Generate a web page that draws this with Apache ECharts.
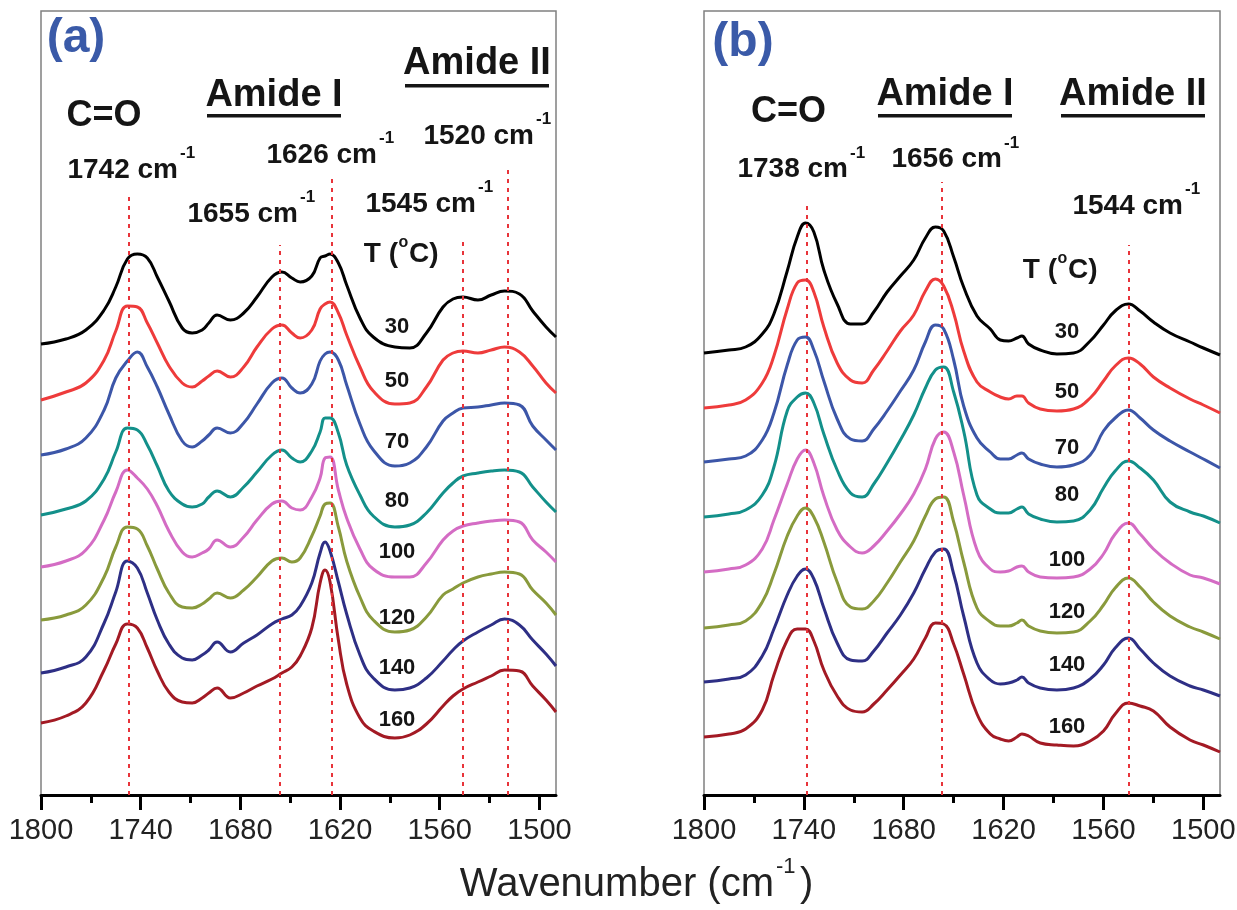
<!DOCTYPE html>
<html><head><meta charset="utf-8">
<script src="https://cdn.jsdelivr.net/npm/echarts@6/dist/echarts.min.js"></script>
<style>html,body{margin:0;padding:0;background:#fff}#c{width:1237px;height:910px}</style>
</head><body><div id="c"></div>
<script>
// Temperatures and colours of the traces
const temps = [30, 50, 70, 80, 100, 120, 140, 160];
const colors = ['#000000', '#ee3b3b', '#3c56a8', '#13908a', '#d46cc4', '#899a3c', '#2e2f85', '#a31a24'];

// Panel (a): wavenumbers (cm-1) and stacked intensities (a.u., offset)
const wnA = [1800,1785,1773,1762,1755,1748,1742,1736,1730,1723,1715,1709,1703,1699,1694,1686,1678,1670,1661,1655,1649,1644,1637,1632,1629,1626,1621,1616,1608,1600,1587,1578,1568,1558,1552,1546,1537,1529,1521,1512,1504,1496,1490];
const a30  = [451,456,465,485,508,536,541,537,518,494,467,462,465,472,480,475,482,498,518,523,517,513,519,537,539,541,532,510,477,458,448,447,462,488,496,498,495,500,504,501,484,468,458];
const a50  = [395,403,412,435,464,489,488,472,452,429,412,408,414,419,424,418,428,448,466,470,462,457,465,486,491,493,482,460,428,404,391,392,408,435,442,444,442,445,448,443,429,412,402];
const a70  = [340,346,357,385,417,434,443,428,408,381,354,348,354,360,367,362,372,391,412,417,407,402,411,434,441,443,435,410,371,345,329,332,348,374,382,387,388,390,392,390,369,355,345];
const a80  = [280,286,294,316,343,367,365,350,329,304,291,288,291,298,304,298,308,323,340,345,337,333,344,363,377,377,362,330,300,279,268,270,282,302,312,319,322,324,325,323,308,293,283];
const a100 = [228,234,245,275,303,325,317,306,289,264,243,238,242,246,255,248,258,275,291,294,287,285,298,317,337,338,305,277,246,226,218,218,232,255,264,269,272,274,275,273,255,243,233];
const a120 = [175,180,190,218,248,268,266,249,226,202,188,187,191,196,202,197,205,218,234,237,233,237,259,279,291,292,268,234,198,175,163,165,178,200,206,212,218,221,223,221,205,192,180];
const a140 = [122,128,138,172,203,234,227,202,175,151,137,135,140,145,153,143,152,160,171,176,180,189,212,242,253,244,213,181,140,117,105,107,117,134,145,154,163,170,176,170,155,141,129];
const a160 = [72,79,92,125,151,171,167,147,124,103,93,92,97,102,107,97,102,109,116,122,128,139,167,212,225,213,155,111,77,64,57,60,71,89,99,106,113,119,125,124,109,95,83];

// Panel (b)
const wnB = [1800,1785,1775,1765,1758,1750,1744,1739,1734,1728,1720,1712,1705,1698,1690,1682,1674,1667,1661,1656,1650,1644,1636,1628,1622,1617,1612,1609,1605,1598,1588,1578,1568,1560,1553,1545,1538,1530,1520,1508,1500,1490];
const b30  = [442,445,448,461,481,524,558,572,563,525,491,471,471,483,503,519,535,557,568,564,538,508,479,466,455,454,457,459,451,445,441,442,454,470,484,491,484,473,462,453,447,440];
const b50  = [387,390,395,412,439,486,512,515,503,468,432,415,412,425,444,464,480,504,516,509,482,444,413,403,398,396,399,399,392,386,384,386,397,414,429,437,431,418,407,396,390,382];
const b70  = [333,336,339,355,382,430,455,458,445,414,376,356,354,366,384,404,425,453,470,466,435,389,357,343,336,336,340,342,336,331,328,330,340,364,377,385,377,365,354,343,336,327];
const b80  = [278,281,285,300,328,384,398,402,392,361,325,302,298,311,332,355,380,407,425,428,403,364,300,286,282,282,286,288,281,276,273,274,285,307,324,334,327,315,293,283,279,272];
const b100 = [223,226,230,246,275,311,336,345,332,299,265,248,242,249,264,281,301,326,356,363,343,300,245,226,223,224,228,229,223,218,217,218,226,241,261,272,261,246,232,220,217,211];
const b120 = [167,170,174,193,221,259,279,287,278,253,213,188,186,194,212,233,254,279,296,298,273,233,187,173,169,169,172,175,169,164,162,163,174,190,207,217,208,193,179,168,163,156];
const b140 = [113,116,120,139,166,200,219,226,216,187,152,135,134,144,162,180,202,226,243,246,221,179,132,115,111,112,115,118,112,107,105,107,116,130,147,157,146,132,119,109,105,99];
const b160 = [58,61,66,85,120,155,166,166,154,125,99,85,83,91,105,120,136,157,172,171,151,121,81,61,56,54,58,61,59,52,50,49,54,64,81,92,89,84,68,55,50,43];

// Dashed peak markers: wavenumber and top of the dashed line (a.u.)
const peaksA = [1747, 1656, 1625, 1546, 1519];
const peakTopA = [600, 550, 618, 558, 628];
const peaksB = [1738.5, 1657, 1545];
const peakTopB = [592, 613, 550];

// Axis ticks
const majorTicks = [1800, 1740, 1680, 1620, 1560, 1500];
const minorTicks = [1770, 1710, 1650, 1590, 1530];

const setsA = [a30, a50, a70, a80, a100, a120, a140, a160];
const setsB = [b30, b50, b70, b80, b100, b120, b140, b160];

const FF = '"Liberation Sans", Arial, Helvetica, sans-serif';

function pairs(xs, ys) { return xs.map((x, i) => [x, ys[i]]); }

function xMajor(gi) {
  return {
    type: 'value', gridIndex: gi, min: 1490, max: 1800, inverse: true, position: 'bottom',
    axisLine: { show: true, onZero: false, lineStyle: { color: '#000', width: 3 } },
    axisTick: { show: true, length: 15, customValues: majorTicks, lineStyle: { color: '#000', width: 3 } },
    axisLabel: { show: true, customValues: majorTicks, margin: 21, fontSize: 29, color: '#222', fontFamily: FF, formatter: v => String(v) },
    splitLine: { show: false }
  };
}
function xMinor(gi) {
  return {
    type: 'value', gridIndex: gi, min: 1490, max: 1800, inverse: true, position: 'bottom',
    axisLine: { show: false, onZero: false },
    axisTick: { show: true, length: 8, customValues: minorTicks, lineStyle: { color: '#000', width: 3 } },
    axisLabel: { show: false },
    splitLine: { show: false }
  };
}
function yAx(gi) {
  return { type: 'value', gridIndex: gi, min: 0, max: 784, show: false, splitLine: { show: false } };
}

function markLines(ws, tops) {
  return {
    silent: true, symbol: ['none', 'none'], label: { show: false },
    lineStyle: { color: '#e8343a', width: 2, type: [4, 5] },
    data: ws.map((w, i) => [{ coord: [w, 0] }, { coord: [w, tops[i]] }])
  };
}

const series = [];
[[wnA, setsA, 0, peaksA, peakTopA], [wnB, setsB, 1, peaksB, peakTopB]].forEach(([wn, sets, gi, pk, pt]) => {
  sets.forEach((ys, k) => {
    const s = {
      type: 'line', name: temps[k] + ' °C', xAxisIndex: gi * 2, yAxisIndex: gi,
      data: pairs(wn, ys), showSymbol: false, symbol: 'none', smooth: 0.45,
      lineStyle: { color: colors[k], width: 3 }, itemStyle: { color: colors[k] }, z: 3
    };
    if (k === sets.length - 1) { s.markLine = markLines(pk, pt); }
    series.push(s);
  });
});

// Text helpers
function T(x, y, s, size, align, opt) {
  opt = opt || {};
  return {
    type: 'text', x: x, y: y, silent: true, z: 100,
    style: {
      text: s, font: (opt.weight || 'bold') + ' ' + size + 'px ' + FF, fill: opt.color || '#151515',
      align: align, textAlign: align, verticalAlign: 'middle', textVerticalAlign: 'middle'
    }
  };
}
function U(x, y, w) {
  return { type: 'rect', silent: true, z: 100, shape: { x: x, y: y, width: w, height: 3.5 }, style: { fill: '#151515' } };
}
function wl(rightX, y, main, supY) { // "#### cm" + superscript -1
  return [T(rightX, y, main, 28, 'right'), T(rightX + 2, supY, '-1', 17, 'left')];
}

const labelsA = [327, 381, 442, 501, 552, 618, 668, 720];
const labelsB = [332, 392, 448, 495, 560, 612, 665, 727];

const graphics = [
  T(76, 39, '(a)', 48, 'center', { color: '#3a5aa8' }),
  T(743, 43, '(b)', 48, 'center', { color: '#3a5aa8' }),
  T(104, 116.5, 'C=O', 36, 'center'),
  T(788.5, 112.5, 'C=O', 36, 'center'),
  T(274, 96, 'Amide I', 38, 'center'), U(207, 114, 134),
  T(477, 64, 'Amide II', 38, 'center'), U(405, 84, 144),
  T(945, 95, 'Amide I', 38, 'center'), U(878, 114, 134),
  T(1133, 95, 'Amide II', 38, 'center'), U(1061, 114, 144),
  ...wl(178, 170, '1742 cm', 153),
  ...wl(377, 155, '1626 cm', 138),
  ...wl(298, 214, '1655 cm', 197),
  ...wl(534, 136, '1520 cm', 119),
  ...wl(476, 204, '1545 cm', 187),
  ...wl(848, 169, '1738 cm', 153),
  ...wl(1002, 159, '1656 cm', 143),
  ...wl(1183, 206, '1544 cm', 189),
  T(398, 254, 'T (', 28, 'right'), T(398.5, 243, 'o', 16, 'left'), T(409, 254, 'C)', 28, 'left'),
  T(1057, 270, 'T (', 28, 'right'), T(1057.5, 259, 'o', 16, 'left'), T(1068, 270, 'C)', 28, 'left'),
  T(774, 885, 'Wavenumber (cm', 40, 'right', { weight: 'normal', color: '#222' }),
  T(776, 867, '-1', 22, 'left', { weight: 'normal', color: '#222' }),
  T(800, 885, ')', 40, 'left', { weight: 'normal', color: '#222' })
];
temps.forEach((t, i) => {
  graphics.push(T(397, labelsA[i], String(t), 22, 'center'));
  graphics.push(T(1067, labelsB[i], String(t), 22, 'center'));
});

const chart = echarts.init(document.getElementById('c'), null, { renderer: 'canvas' });
chart.setOption({
  animation: false,
  backgroundColor: '#ffffff',
  grid: [
    { left: 41, top: 11, width: 515, height: 784, show: true, borderColor: '#808080', borderWidth: 1.5, backgroundColor: 'transparent', containLabel: false, outerBoundsMode: 'none' },
    { left: 704, top: 11, width: 516, height: 784, show: true, borderColor: '#808080', borderWidth: 1.5, backgroundColor: 'transparent', containLabel: false, outerBoundsMode: 'none' }
  ],
  xAxis: [xMajor(0), xMinor(0), xMajor(1), xMinor(1)],
  yAxis: [yAx(0), yAx(1)],
  series: series,
  graphic: { elements: graphics }
});
</script>
</body></html>
